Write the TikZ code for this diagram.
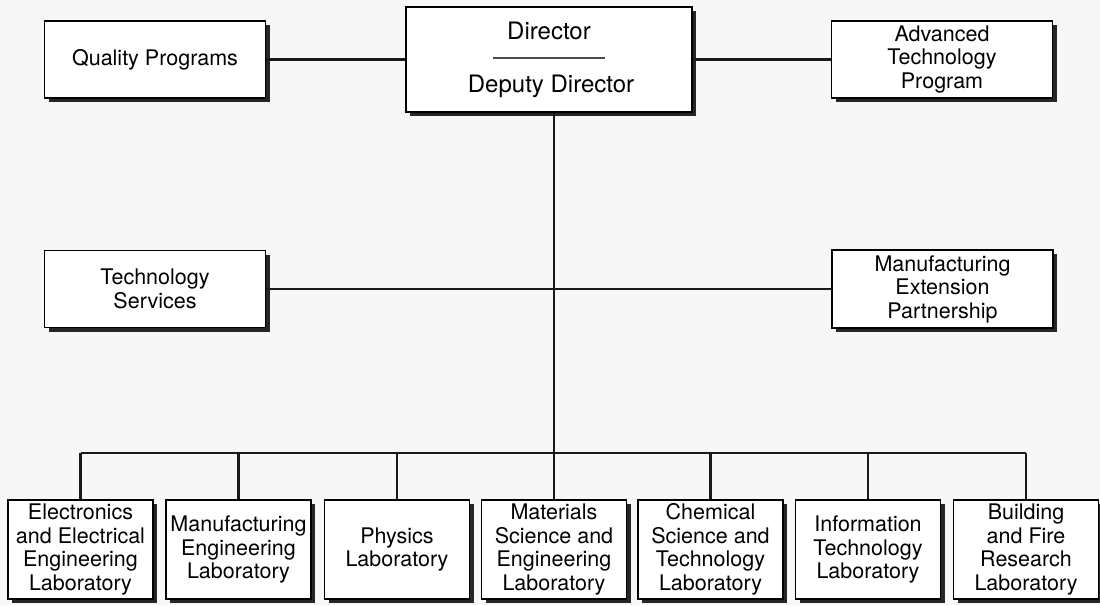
\documentclass[tikz,border=0pt]{standalone}
\usepackage{fontspec}
\setmainfont{TeX Gyre Heros}
\usetikzlibrary{shadows}
\begin{document}
\begin{tikzpicture}[x=1pt,y=-1pt,
  font=\fontsize{21.5}{23.5}\selectfont,
  unit/.style={draw=black, line width=1.6pt, fill=white, inner sep=0pt, align=center,
    drop shadow={shadow xshift=4pt, shadow yshift=-4pt, opacity=1, fill=black!85}},
  lab/.style={unit, minimum width=145pt, minimum height=99pt},
  side/.style={unit, minimum width=221pt, minimum height=77pt},
  link/.style={line width=2.3pt, black!90},
  caption/.style={anchor=base, inner sep=0pt, font=\fontsize{24}{26}\selectfont}]

% page background
\fill[black!3] (0,0) rectangle (1100,605);
\useasboundingbox (0,0) rectangle (1100,605);

% top row
\node[unit, minimum width=286pt, minimum height=105pt] (dir) at (549,59.5) {};
\node[caption] (dirt) at (549,39) {Director};
\node[caption] (dept) at (551,92) {Deputy Director};
\draw[line width=2.2pt, black!70] (493,58) -- (605,58);

\node[side] (qp)  at (155,59.5)  {Quality Programs};
\node[side] (atp) at (942,59.5)  {Advanced\\Technology\\Program};

% staff offices
\node[side] (ts)  at (155,289) {Technology\\Services};
\node[side, minimum height=78pt] (mep) at (942.5,289) {Manufacturing\\Extension\\Partnership};

% laboratories
\node[lab] (l1) at (80.5,549.5)  {Electronics\\and Electrical\\Engineering\\Laboratory};
\node[lab] (l2) at (238.5,549.5) {Manufacturing\\Engineering\\Laboratory};
\node[lab] (l3) at (397,549.5)   {Physics\\Laboratory};
\node[lab] (l4) at (554,549.5)   {Materials\\Science and\\Engineering\\Laboratory};
\node[lab] (l5) at (710.5,549.5) {Chemical\\Science and\\Technology\\Laboratory};
\node[lab] (l6) at (868,549.5)   {Information\\Technology\\Laboratory};
\node[lab] (l7) at (1026,549.5)  {Building\\and Fire\\Research\\Laboratory};

% connectors
\coordinate (bus) at (0,453);
\draw[link] (qp.east) -- (qp.east -| dir.west);
\draw[link] (dir.east) -- (dir.east -| atp.west);
\draw[link] (dir.south -| l4.north) -- (l4.north);
\draw[link] (ts.east) -- (ts.east -| mep.west);
\draw[link] (l1.north |- bus) -- (l7.north |- bus);
\foreach \i in {1,...,7}
  \draw[link] (l\i.north |- bus) -- (l\i.north);
\end{tikzpicture}
\end{document}
